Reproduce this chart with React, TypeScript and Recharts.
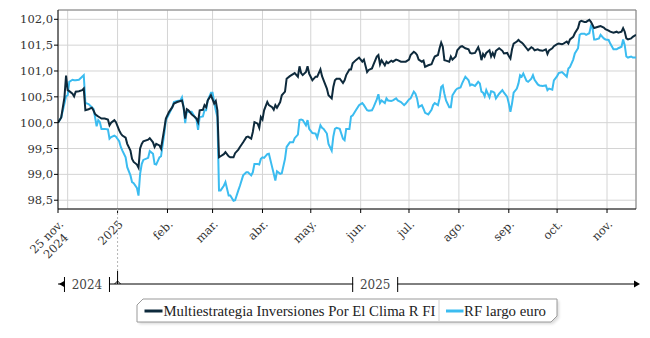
import { LineChart, Line, XAxis, YAxis, CartesianGrid, ReferenceLine, Legend } from "recharts"

// daily closes, base 100 on 25 nov. 2024
const dates = [
  "2024-11-25", "2024-11-27", "2024-11-29", "2024-11-30", "2024-12-01", "2024-12-02", "2024-12-04", "2024-12-05", "2024-12-06", "2024-12-08",
  "2024-12-10", "2024-12-11", "2024-12-12", "2024-12-14", "2024-12-16", "2024-12-17", "2024-12-18", "2024-12-19", "2024-12-20", "2024-12-21",
  "2024-12-22", "2024-12-24", "2024-12-26", "2024-12-27", "2024-12-28", "2024-12-30", "2024-12-31", "2025-01-02", "2025-01-03", "2025-01-04",
  "2025-01-06", "2025-01-07", "2025-01-09", "2025-01-10", "2025-01-11", "2025-01-13", "2025-01-14", "2025-01-15", "2025-01-16", "2025-01-17",
  "2025-01-20", "2025-01-21", "2025-01-23", "2025-01-24", "2025-01-25", "2025-01-27", "2025-01-28", "2025-01-30", "2025-01-31", "2025-02-02",
  "2025-02-04", "2025-02-05", "2025-02-07", "2025-02-09", "2025-02-10", "2025-02-11", "2025-02-12", "2025-02-13", "2025-02-14", "2025-02-16",
  "2025-02-18", "2025-02-19", "2025-02-20", "2025-02-21", "2025-02-23", "2025-02-24",
  "2025-02-25", "2025-02-26", "2025-02-28", "2025-03-01", "2025-03-02", "2025-03-03", "2025-03-04", "2025-03-05", "2025-03-06", "2025-03-08",
  "2025-03-09", "2025-03-11", "2025-03-12", "2025-03-14", "2025-03-15", "2025-03-17", "2025-03-18", "2025-03-20", "2025-03-22", "2025-03-23",
  "2025-03-25", "2025-03-26", "2025-03-27", "2025-03-29", "2025-03-30", "2025-03-31", "2025-04-01", "2025-04-02", "2025-04-04", "2025-04-05",
  "2025-04-07", "2025-04-08", "2025-04-09", "2025-04-10", "2025-04-12", "2025-04-13", "2025-04-15", "2025-04-16", "2025-04-18", "2025-04-20",
  "2025-04-21", "2025-04-23", "2025-04-24", "2025-04-25", "2025-04-26", "2025-04-28", "2025-04-29", "2025-04-30", "2025-05-02", "2025-05-04",
  "2025-05-05", "2025-05-07", "2025-05-08", "2025-05-09", "2025-05-11", "2025-05-12", "2025-05-14", "2025-05-15", "2025-05-16", "2025-05-17",
  "2025-05-19", "2025-05-21", "2025-05-22", "2025-05-23", "2025-05-25",
  "2025-05-26", "2025-05-27", "2025-05-29", "2025-05-31", "2025-06-01", "2025-06-02", "2025-06-03", "2025-06-05", "2025-06-06", "2025-06-08",
  "2025-06-09", "2025-06-11", "2025-06-12", "2025-06-13", "2025-06-14", "2025-06-16", "2025-06-17", "2025-06-18", "2025-06-20", "2025-06-21",
  "2025-06-23", "2025-06-24", "2025-06-26", "2025-06-28", "2025-06-29", "2025-07-01", "2025-07-02", "2025-07-04", "2025-07-05", "2025-07-06",
  "2025-07-07", "2025-07-09", "2025-07-10", "2025-07-11", "2025-07-13", "2025-07-15", "2025-07-16", "2025-07-17", "2025-07-19", "2025-07-20",
  "2025-07-21", "2025-07-22", "2025-07-23", "2025-07-24", "2025-07-26", "2025-07-27", "2025-07-28", "2025-07-30", "2025-07-31", "2025-08-02",
  "2025-08-03", "2025-08-05", "2025-08-07", "2025-08-08", "2025-08-09", "2025-08-11", "2025-08-13", "2025-08-14", "2025-08-15", "2025-08-16",
  "2025-08-17", "2025-08-18", "2025-08-20", "2025-08-21",
  "2025-08-22", "2025-08-23", "2025-08-24", "2025-08-26", "2025-08-28", "2025-08-29", "2025-08-31", "2025-09-01", "2025-09-02", "2025-09-03",
  "2025-09-04", "2025-09-06", "2025-09-07", "2025-09-08", "2025-09-09", "2025-09-10", "2025-09-12", "2025-09-13", "2025-09-15", "2025-09-16",
  "2025-09-17", "2025-09-19", "2025-09-20", "2025-09-22", "2025-09-24", "2025-09-25", "2025-09-26", "2025-09-28", "2025-09-29", "2025-10-01",
  "2025-10-02", "2025-10-04", "2025-10-05", "2025-10-07", "2025-10-08", "2025-10-09", "2025-10-11", "2025-10-12", "2025-10-14", "2025-10-15",
  "2025-10-16", "2025-10-18", "2025-10-19", "2025-10-21", "2025-10-22", "2025-10-23", "2025-10-24", "2025-10-25", "2025-10-27", "2025-10-28",
  "2025-10-30", "2025-10-31", "2025-11-02", "2025-11-03", "2025-11-05", "2025-11-07", "2025-11-08", "2025-11-10", "2025-11-11", "2025-11-12",
  "2025-11-13", "2025-11-14", "2025-11-16", "2025-11-17", "2025-11-19",
]

const fund = [
  100.0, 100.1, 100.49, 100.91, 100.63, 100.61, 100.56, 100.51, 100.6, 100.61,
  100.63, 100.66, 100.24, 100.26, 100.29, 100.24, 100.17, 100.14, 100.12, 100.1,
  100.08, 100.08, 100.06, 99.95, 100.0, 100.05, 100.01, 99.85, 99.79, 99.75,
  99.71, 99.59, 99.46, 99.3, 99.24, 99.19, 99.13, 99.5, 99.59, 99.64,
  99.67, 99.7, 99.62, 99.53, 99.59, 99.56, 99.5, 99.88, 100.08, 100.21,
  100.3, 100.37, 100.4, 100.42, 100.43, 100.3, 100.08, 100.26, 100.24, 100.16,
  100.11, 100.08, 100.01, 100.24, 100.25, 100.34,
  100.3, 100.43, 100.53, 100.45, 100.37, 100.42, 100.24, 99.33, 99.35, 99.39,
  99.43, 99.35, 99.33, 99.33, 99.41, 99.48, 99.53, 99.62, 99.72, 99.73,
  99.69, 99.82, 100.01, 99.98, 99.9, 100.11, 100.06, 100.24, 100.4, 100.34,
  100.3, 100.25, 100.34, 100.29, 100.4, 100.53, 100.6, 100.85, 100.9, 100.94,
  100.96, 100.89, 101.09, 100.96, 100.92, 100.98, 101.09, 100.95, 100.82, 100.89,
  100.89, 101.03, 100.9, 100.82, 100.66, 100.53, 100.47, 100.69, 100.82, 100.85,
  100.85, 100.77, 100.82, 100.92, 101.03,
  101.03, 101.15, 101.21, 101.26, 101.22, 101.18, 101.22, 100.98, 101.02, 101.05,
  101.13, 101.28, 101.31, 101.13, 101.21, 101.11, 101.18, 101.15, 101.2, 101.18,
  101.22, 101.21, 101.18, 101.18, 101.18, 101.22, 101.31, 101.37, 101.35, 101.31,
  101.22, 101.18, 101.2, 101.08, 101.11, 101.13, 101.21, 101.28, 101.31, 101.44,
  101.55, 101.47, 101.21, 101.2, 101.18, 101.28, 101.22, 101.28, 101.4, 101.47,
  101.48, 101.44, 101.42, 101.35, 101.34, 101.35, 101.46, 101.37, 101.21, 101.33,
  101.28, 101.35, 101.4, 101.28,
  101.35, 101.28, 101.39, 101.44, 101.39, 101.34, 101.35, 101.29, 101.24, 101.42,
  101.53, 101.57, 101.6, 101.57, 101.55, 101.52, 101.44, 101.4, 101.46, 101.44,
  101.4, 101.42, 101.4, 101.39, 101.42, 101.33, 101.4, 101.44, 101.48, 101.52,
  101.53, 101.52, 101.53, 101.57, 101.53, 101.61, 101.66, 101.73, 101.83, 101.95,
  101.97, 101.95, 101.95, 101.99, 101.95, 101.89, 101.83, 101.84, 101.86, 101.87,
  101.84, 101.81, 101.78, 101.76, 101.74, 101.76, 101.74, 101.76, 101.83, 101.76,
  101.63, 101.61, 101.63, 101.66, 101.7,
]

const benchmark = [
  100.0, 100.1, 100.37, 100.51, 100.53, 100.79, 100.83, 100.82, 100.82, 100.83,
  100.89, 100.92, 100.38, 100.36, 100.3, 100.27, 100.11, 99.93, 100.05, 100.01,
  99.88, 99.88, 99.87, 99.69, 99.72, 99.75, 99.73, 99.64, 99.53, 99.46,
  99.33, 99.14, 98.98, 98.85, 98.83, 98.74, 98.59, 99.01, 99.2, 99.28,
  99.32, 99.45, 99.4, 99.2, 99.19, 99.33, 99.35, 99.79, 100.05, 100.17,
  100.3, 100.4, 100.42, 100.43, 100.49, 100.3, 99.99, 100.24, 100.21, 100.21,
  100.11, 100.06, 99.86, 100.11, 100.12, 100.24,
  100.24, 100.43, 100.58, 100.58, 100.4, 100.24, 100.11, 98.69, 98.69, 98.78,
  98.85, 98.59, 98.59, 98.49, 98.5, 98.69, 98.78, 98.98, 99.04, 99.04,
  98.98, 99.04, 99.2, 99.2, 99.19, 99.3, 99.33, 99.32, 99.39, 99.4,
  99.14, 99.01, 98.88, 99.06, 99.01, 99.02, 99.3, 99.53, 99.62, 99.62,
  99.7, 99.77, 100.05, 100.06, 100.05, 99.95, 100.05, 99.88, 99.8, 99.79,
  99.71, 99.95, 99.9, 99.88, 99.79, 99.59, 99.46, 99.73, 99.88, 99.9,
  99.88, 99.69, 99.66, 99.88, 99.88,
  100.12, 100.14, 100.24, 100.34, 100.36, 100.38, 100.34, 100.24, 100.23, 100.24,
  100.3, 100.45, 100.55, 100.38, 100.43, 100.38, 100.47, 100.43, 100.42, 100.43,
  100.47, 100.43, 100.4, 100.34, 100.37, 100.45, 100.47, 100.6, 100.56, 100.47,
  100.3, 100.34, 100.27, 100.19, 100.16, 100.25, 100.34, 100.38, 100.34, 100.47,
  100.69, 100.72, 100.56, 100.43, 100.3, 100.3, 100.53, 100.63, 100.66, 100.68,
  100.76, 100.89, 100.82, 100.72, 100.74, 100.71, 100.79, 100.76, 100.6, 100.58,
  100.51, 100.63, 100.49, 100.61,
  100.6, 100.58, 100.47, 100.56, 100.63, 100.58, 100.5, 100.37, 100.21, 100.37,
  100.58, 100.66, 100.76, 100.92, 100.89, 100.95, 100.81, 100.79, 100.85, 100.92,
  100.83, 100.74, 100.72, 100.71, 100.72, 100.63, 100.66, 100.64, 100.82, 100.9,
  100.96, 100.98, 100.95, 100.89, 101.05, 101.08, 101.22, 101.34, 101.44, 101.7,
  101.72, 101.72, 101.7, 101.73, 101.87, 101.83, 101.61, 101.61, 101.63, 101.7,
  101.63, 101.61, 101.6, 101.53, 101.42, 101.42, 101.44, 101.47, 101.61, 101.5,
  101.28, 101.26, 101.28, 101.26, 101.26,
]

const seriesNames = ["Multiestrategia Inversiones Por El Clima R FI", "RF largo euro"]
const seriesColors = ["#0e2a3c", "#3bbcf0"]

const yTicks = [98.5, 99, 99.5, 100, 100.5, 101, 101.5, 102]
const yDomain = [98.33, 102.18]

const rangeStart = "2024-11-25"
const rangeEnd = "2025-11-19"
const tickDates = [
  "2024-11-25", "2024-12-01", "2025-01-01", "2025-02-01", "2025-03-01", "2025-04-01", "2025-05-01",
  "2025-06-01", "2025-07-01", "2025-08-01", "2025-09-01", "2025-10-01", "2025-11-01",
]
const tickLabels = ["25 nov.\n2024", "", "2025", "feb.", "mar.", "abr.", "may.", "jun.", "jul.", "ago.", "sep.", "oct.", "nov."]

const yearBreak = "2025-01-01"
const yearDates = ["2024-12-13", "2025-06-10"]
const yearLabels = ["2024", "2025"]

const ts = (d: string) => Date.parse(d)
const startT = ts(rangeStart)
const endT = ts(rangeEnd)
const breakT = ts(yearBreak)
const tickTimes = tickDates.map(ts)
const yearTimes = yearDates.map(ts)
const yearTicks = [startT, yearTimes[0], breakT, yearTimes[1], endT]

const data = dates.map((d, i) => ({ t: ts(d), fund: fund[i], benchmark: benchmark[i] }))

const tickFont = "'DejaVu Serif', serif"

function MonthTick({ x, y, payload }: any) {
  const i = tickTimes.indexOf(payload.value)
  const label = tickLabels[i]
  if (!label) return null
  const lines = label.split("\n")
  return (
    <g>
      <line x1={x} y1={y} x2={x} y2={y + 4} stroke="#000" />
      {payload.value === breakT && (
        <line x1={x} y1={y} x2={x} y2={y + 62} stroke="#b5b5b5" strokeDasharray="2 2" />
      )}
      <text
        transform={`translate(${x + 6},${y + 16}) rotate(-45)`}
        textAnchor="end"
        fontSize={11.5}
        fontFamily={tickFont}
        fill="#333"
      >
        {lines.map((l, k) => (
          <tspan key={k} x={k ? -6 : 0} y={k * 13}>
            {l}
          </tspan>
        ))}
      </text>
    </g>
  )
}

function YearTick({ x, y, payload }: any) {
  const t = payload.value
  if (t === startT) return <path d={`M${x + 1},${y} L${x + 7},${y - 3.5} L${x + 7},${y + 3.5} Z`} fill="#000" />
  if (t === endT) return <path d={`M${x + 4},${y} L${x - 2},${y - 3.5} L${x - 2},${y + 3.5} Z`} fill="#000" />
  if (t === breakT)
    return (
      <g>
        <line x1={x} y1={y - 13} x2={x} y2={y} stroke="#000" />
        <path d={`M${x - 3},${y} L${x},${y - 3} L${x + 3},${y}`} fill="none" stroke="#000" />
      </g>
    )
  const i = yearTimes.indexOf(t)
  return (
    <g>
      <rect x={x - 22} y={y - 2} width={44} height={4} fill="#fff" />
      <line x1={x - 22.5} y1={y - 7} x2={x - 22.5} y2={y + 8} stroke="#000" />
      <line x1={x + 22.5} y1={y - 7} x2={x + 22.5} y2={y + 8} stroke="#000" />
      <text x={x} y={y + 5} textAnchor="middle" fontSize={12} fontFamily={tickFont} fill="#444">
        {yearLabels[i]}
      </text>
    </g>
  )
}

function LegendBox() {
  return (
    <svg width={432} height={34}>
      <defs>
        <filter id="lgshadow" x="-5%" y="-30%" width="110%" height="160%">
          <feGaussianBlur stdDeviation="1.5" />
        </filter>
      </defs>
      <polygon points="11,5 425,5 425,22 419,28 5,28 5,11" fill="#000" opacity={0.15} filter="url(#lgshadow)" />
      <polygon points="9,3 423,3 423,20 417,26 3,26 3,9" fill="#fff" stroke="#9a9a9a" />
      <line x1={305} y1={3} x2={305} y2={26} stroke="#d0d0d0" />
      <line x1={10.5} y1={15} x2={28.5} y2={15} stroke={seriesColors[0]} strokeWidth={3} />
      <text x={29.5} y={19.5} fontSize={14.5} fontFamily="'Liberation Serif', serif" fill="#222" textLength={272} lengthAdjust="spacingAndGlyphs">
        {seriesNames[0]}
      </text>
      <line x1={312} y1={15} x2={329.5} y2={15} stroke={seriesColors[1]} strokeWidth={3} />
      <text x={330} y={19.5} fontSize={14.5} fontFamily="'Liberation Serif', serif" fill="#222" textLength={82} lengthAdjust="spacingAndGlyphs">
        {seriesNames[1]}
      </text>
    </svg>
  )
}

export default function App() {
  return (
    <div style={{ width: 650, height: 338, background: "#fff" }}>
      <style>{`body{margin:0}`}</style>
      <LineChart width={650} height={338} data={data} margin={{ top: 10, right: 14, left: 8, bottom: 40 }}>
        <CartesianGrid xAxisId="main" stroke="#d4d4d4" strokeOpacity={1} />
        <XAxis
          xAxisId="main"
          dataKey="t"
          type="number"
          domain={[startT, endT]}
          ticks={tickTimes}
          interval={0}
          allowDataOverflow
          tick={<MonthTick />}
          tickLine={false}
          tickSize={0}
          tickMargin={0}
          axisLine={{ stroke: "#000" }}
          height={75}
        />
        <XAxis
          xAxisId="year"
          dataKey="t"
          type="number"
          domain={[startT, endT]}
          ticks={yearTicks}
          interval={0}
          allowDataOverflow
          tick={<YearTick />}
          tickLine={false}
          tickSize={0}
          tickMargin={0}
          axisLine={{ stroke: "#000" }}
          height={14}
        />
        <YAxis
          domain={yDomain}
          ticks={yTicks}
          interval={0}
          allowDataOverflow
          width={50}
          tickSize={4}
          tickMargin={1}
          tickLine={{ stroke: "#000" }}
          axisLine={{ stroke: "#000" }}
          tick={{ fontSize: 11.5, fontFamily: tickFont, fill: "#333" }}
          tickFormatter={(v: number) => v.toFixed(1).replace(".", ",")}
        />
        <ReferenceLine xAxisId="main" y={yDomain[1]} stroke="#808080" />
        <ReferenceLine xAxisId="main" x={endT} stroke="#808080" />
        {/* invisible series that keeps the year axis attached to the data */}
        <Line
          xAxisId="year"
          type="linear"
          dataKey="fund"
          stroke="none"
          dot={false}
          activeDot={false}
          legendType="none"
          isAnimationActive={false}
        />
        <Line
          xAxisId="main"
          type="linear"
          dataKey="benchmark"
          name={seriesNames[1]}
          stroke={seriesColors[1]}
          strokeWidth={2}
          dot={false}
          isAnimationActive={false}
        />
        <Line
          xAxisId="main"
          type="linear"
          dataKey="fund"
          name={seriesNames[0]}
          stroke={seriesColors[0]}
          strokeWidth={2}
          dot={false}
          isAnimationActive={false}
        />
        <Legend
          layout="vertical"
          align="center"
          verticalAlign="middle"
          wrapperStyle={{ position: "absolute", top: 296, left: 134, width: 432, height: 34 }}
          content={() => <LegendBox />}
        />
      </LineChart>
    </div>
  )
}
